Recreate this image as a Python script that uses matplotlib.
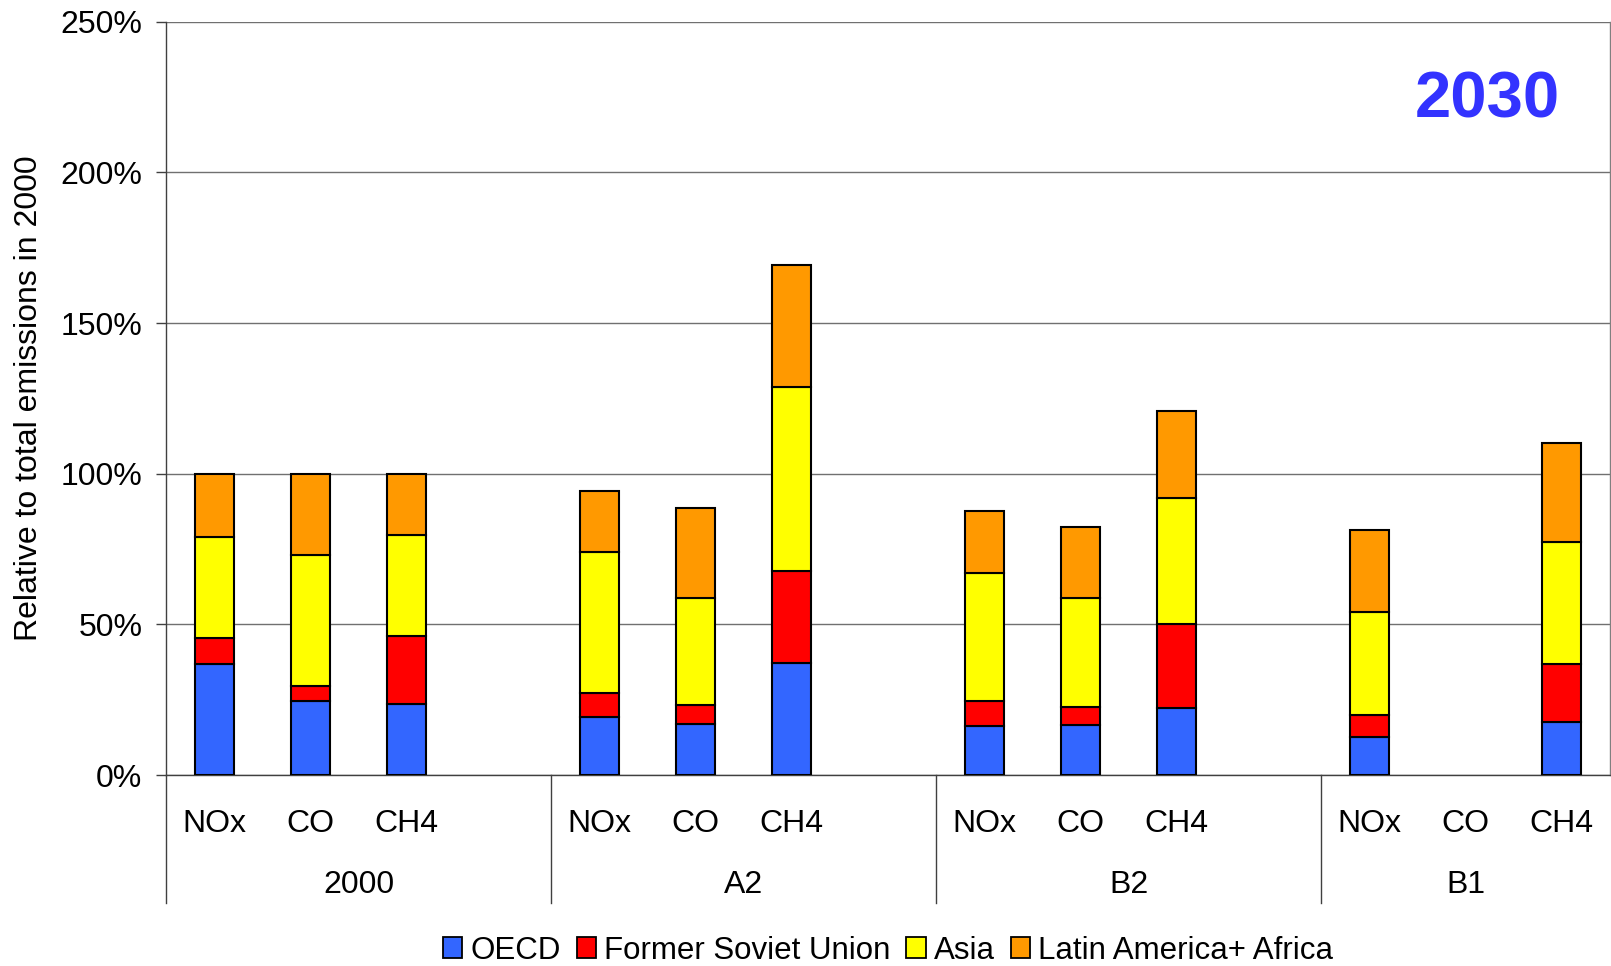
import numpy as np
import matplotlib
matplotlib.use("Agg")
import matplotlib.pyplot as plt
from matplotlib.patches import Patch
from matplotlib.transforms import blended_transform_factory

plt.rcParams['font.family'] = ['Liberation Sans', 'DejaVu Sans']

# Emissions in 2030 relative to total emissions in 2000 (%), by region
scenarios = ['2000', 'A2', 'B2', 'B1']
gases = ['NOx', 'CO', 'CH4']
regions = ['OECD', 'Former Soviet Union', 'Asia', 'Latin America+ Africa']
colors = ['#3366FF', '#FF0000', '#FFFF00', '#FF9900']

nan = np.nan
#                2000: NOx  CO    CH4   A2: NOx CO    CH4   B2: NOx CO    CH4   B1: NOx CO   CH4
oecd         = [37.0, 24.6, 23.7,  19.2, 17.0, 37.1,  16.3, 16.7, 22.2,  12.7, nan, 17.6]
former_ussr  = [ 8.4,  5.1, 22.3,   8.1,  6.1, 30.6,   8.3,  5.8, 27.8,   7.1, nan, 19.1]
asia         = [33.5, 43.4, 33.5,  46.6, 35.5, 61.1,  42.5, 36.1, 41.9,  34.2, nan, 40.7]
latam_africa = [21.1, 26.9, 20.5,  20.2, 30.1, 40.5,  20.5, 23.7, 28.8,  27.4, nan, 32.7]

ytick_values = [0, 50, 100, 150, 200, 250]

series = [oecd, former_ussr, asia, latam_africa]

# x slot of every bar: three gases per scenario, one empty slot between groups
xpos = np.array([4 * g + i for g in range(len(scenarios)) for i in range(len(gases))])

fig = plt.figure(figsize=(16.11, 9.66), dpi=100)
ax = fig.add_axes([0.1030, 0.1977, 0.8964, 0.7798])

bottom = np.zeros(len(xpos))
for vals, col in zip(series, colors):
    v = np.nan_to_num(np.array(vals, dtype=float))
    mask = v > 0
    ax.bar(xpos[mask], v[mask], bottom=bottom[mask], width=0.405, color=col,
           edgecolor='black', linewidth=1.5, zorder=3)
    bottom += v

ax.set_xlim(-0.5, 14.5)
ax.set_ylim(0, 250)
ax.set_yticks(ytick_values)
ax.set_yticklabels([f"{t}%" for t in ytick_values], fontsize=23)
ax.tick_params(axis='y', direction='out', length=7, width=1, color='#404040', pad=10)
ax.set_xticks([])
ax.grid(axis='y', color='#707070', linewidth=1.0, zorder=0)
ax.set_axisbelow(True)

ax.spines['top'].set_visible(False)
ax.spines['left'].set_color('#404040')
ax.spines['bottom'].set_color('#404040')
ax.spines['right'].set_color('#808080')
for s in ax.spines.values():
    s.set_linewidth(1.0)

trans = blended_transform_factory(ax.transData, ax.transAxes)

# two-level category labels below the axis
for x, i in zip(xpos, [i for g in range(len(scenarios)) for i in range(len(gases))]):
    ax.text(x, -0.0757, gases[i], transform=trans, ha='center', va='baseline',
            fontsize=23)

group_centers = [1.5, 5.5, 9.5, 13.0]
for xc, name in zip(group_centers, scenarios):
    ax.text(xc, -0.1566, name, transform=trans, ha='center', va='baseline',
            fontsize=23)

for xb in [-0.5, 3.5, 7.5, 11.5]:
    ax.plot([xb, xb], [0, -0.170], transform=trans, color='#404040',
            linewidth=1.0, clip_on=False)

ax.text(-0.0949, 0.5, 'Relative to total emissions in 2000', transform=ax.transAxes,
        rotation=90, ha='center', va='center', fontsize=23)

ax.text(0.915, 0.873, '2030', transform=ax.transAxes, ha='center', va='baseline',
        fontsize=47, fontweight='bold', color='#3333FF')

handles = [Patch(facecolor=c, edgecolor='black', linewidth=1.3) for c in colors]
fig.legend(handles, regions, loc='center', ncol=4, frameon=False,
           bbox_to_anchor=(0.5512, 0.0160), fontsize=22.5,
           handlelength=0.62, handleheight=0.62, handletextpad=0.25,
           columnspacing=0.52, borderpad=0, borderaxespad=0)

fig.savefig('out.png', dpi=100)
